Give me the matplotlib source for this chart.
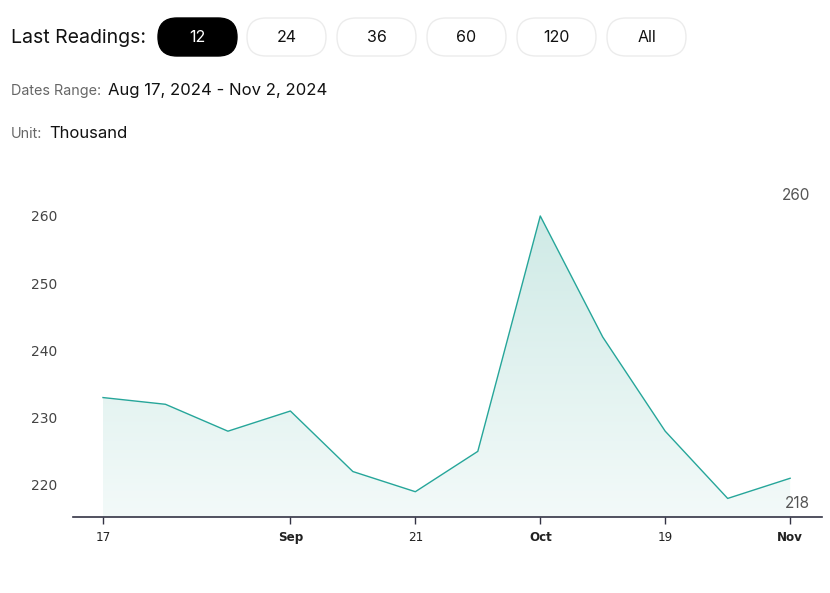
import matplotlib
matplotlib.use('Agg')
import matplotlib.pyplot as plt
from matplotlib.patches import FancyBboxPatch
from matplotlib.colors import LinearSegmentedColormap
import numpy as np

# weekly readings, Aug 17 2024 .. Nov 2 2024 (thousand)
dates = ['Aug 17', 'Aug 24', 'Aug 31', 'Sep 7', 'Sep 14', 'Sep 21',
         'Sep 28', 'Oct 5', 'Oct 12', 'Oct 19', 'Oct 26', 'Nov 2']
values = [233, 232, 228, 231, 222, 219, 225, 260, 242, 228, 218, 221]
tick_idx = [0, 3, 5, 7, 9, 11]
tick_labels = ['17', 'Sep', '21', 'Oct', '19', 'Nov']
bold_labels = ['Sep', 'Oct', 'Nov']
buttons = ['12', '24', '36', '60', '120', 'All']

W, H = 830, 593
fig = plt.figure(figsize=(W / 100, H / 100), dpi=100)
plt.rcParams['font.family'] = ['Inter', 'DejaVu Sans']

# header drawn in pixel coords
hdr = fig.add_axes([0, 0, 1, 1])
hdr.set_xlim(0, W)
hdr.set_ylim(H, 0)
hdr.axis('off')

hdr.text(11, 38, 'Last Readings:', fontsize=14, va='center', ha='left', color='#111111')
bx = [158, 247, 337, 427, 517, 607]
for i, (x0, lab) in enumerate(zip(bx, buttons)):
    active = i == 0
    box = FancyBboxPatch((x0, 18), 79, 38,
                         boxstyle='round,pad=0,rounding_size=19',
                         facecolor='black' if active else 'white',
                         edgecolor='black' if active else '#ececec',
                         linewidth=1)
    hdr.add_patch(box)
    hdr.text(x0 + 39.5, 37, lab, fontsize=11.5, ha='center', va='center',
             color='white' if active else '#111111')

hdr.text(11, 91, 'Dates Range:', fontsize=10.3, color='#666666', va='center')
hdr.text(108, 90, 'Aug 17, 2024 - Nov 2, 2024', fontsize=12, color='#111111', va='center')
hdr.text(11, 134, 'Unit:', fontsize=10.3, color='#666666', va='center')
hdr.text(49, 133, 'Thousand', fontsize=12, color='#111111', va='center')

# main chart
ax = fig.add_axes([73 / W, 1 - 517 / H, 749 / W, 337 / H])
x = np.arange(len(values))
ymin, ymax = 215.24, 265.35
ax.set_xlim(-0.48, 11.51)
ax.set_ylim(ymin, ymax)

line_color = '#26a69a'
poly = ax.fill_between(x, values, ymin, facecolor='none', edgecolor='none')
cmap = LinearSegmentedColormap.from_list('g', ['#f3faf9', '#cfeae6'])
grad = np.linspace(0, 1, 256).reshape(-1, 1)
im = ax.imshow(grad, cmap=cmap, aspect='auto', origin='lower',
               extent=[x[0], x[-1], ymin, max(values)], zorder=1)
im.set_clip_path(poly.get_paths()[0], transform=ax.transData)
ax.plot(x, values, color=line_color, linewidth=1, zorder=2)

for s in ['top', 'right', 'left']:
    ax.spines[s].set_visible(False)
ax.spines['bottom'].set_color('#333344')
ax.spines['bottom'].set_linewidth(1.2)

ax.set_yticks([220, 230, 240, 250, 260])
ax.tick_params(axis='y', length=0, pad=11, labelsize=10, labelcolor='#444444')
ax.set_xticks(tick_idx)
ax.set_xticklabels(tick_labels)
ax.tick_params(axis='x', length=5, width=1, color='#333344', pad=5,
               labelsize=9.5, labelcolor='#222222')
for t in ax.get_xticklabels():
    t.set_family(['DejaVu Sans'])
    t.set_stretch('condensed')
    if t.get_text() in bold_labels:
        t.set_fontweight('bold')
for t in ax.get_yticklabels():
    t.set_family(['DejaVu Sans'])

# max / min annotations at right
ax.annotate(str(max(values)), xy=(1, 0), xycoords='axes fraction',
            xytext=(-12, 517 - 196), textcoords='offset pixels',
            ha='right', va='center', fontsize=11, color='#555555')
ax.annotate(str(min(values)), xy=(1, 0), xycoords='axes fraction',
            xytext=(-12, 517 - 503), textcoords='offset pixels',
            ha='right', va='center', fontsize=11, color='#555555')

fig.savefig('out.png', dpi=100)
